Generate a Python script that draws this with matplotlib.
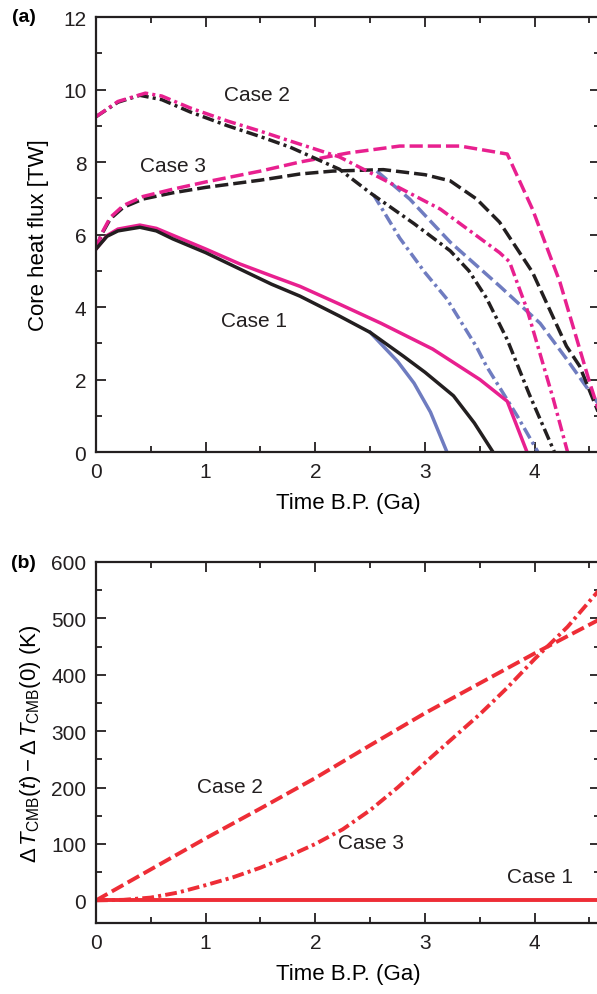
import matplotlib
matplotlib.use("Agg")
import matplotlib.pyplot as plt
from matplotlib.ticker import MultipleLocator

plt.rcParams['font.family'] = ['Liberation Sans', 'DejaVu Sans']
plt.rcParams['mathtext.fontset'] = 'custom'
plt.rcParams['mathtext.rm'] = 'Liberation Sans'
plt.rcParams['mathtext.it'] = 'Liberation Sans:italic'
plt.rcParams['mathtext.bf'] = 'Liberation Sans:bold'
plt.rcParams['lines.scale_dashes'] = False

BLACK = '#231f20'
MAGENTA = '#e8208f'
BLUE = '#6f7cc0'
RED = '#ee2d36'

DASHED = (0, (9.5, 3.6))
DASHDOT = (0, (8.5, 3.0, 2.2, 3.0))

# ---- (a) core heat flux, TW ----
# Case 1 (solid)
t1_black = [0, 0.1, 0.2, 0.4, 0.55, 0.7, 1.0, 1.31, 1.6, 1.86, 2.22, 2.5, 2.8, 3.0, 3.26, 3.45, 3.62]
q1_black = [5.6, 5.95, 6.1, 6.2, 6.1, 5.88, 5.5, 5.05, 4.63, 4.3, 3.75, 3.3, 2.65, 2.2, 1.55, 0.8, 0.0]
t1_magenta = [0, 0.1, 0.2, 0.4, 0.55, 0.7, 1.0, 1.31, 1.6, 1.86, 2.22, 2.6, 3.07, 3.5, 3.75, 3.93]
q1_magenta = [5.6, 5.97, 6.15, 6.26, 6.17, 5.98, 5.6, 5.19, 4.86, 4.57, 4.08, 3.55, 2.84, 2.0, 1.4, 0.0]
t1_blue = [2.5, 2.75, 2.9, 3.05, 3.2]
q1_blue = [3.3, 2.5, 1.9, 1.1, 0.0]

# Case 2 (dash-dot)
t2_black = [0, 0.2, 0.4, 0.6, 0.86, 1.2, 1.5, 1.77, 2.22, 2.5, 2.9, 3.23, 3.4, 3.56, 3.75, 3.95, 4.18]
q2_black = [9.25, 9.65, 9.84, 9.72, 9.38, 9.0, 8.7, 8.41, 7.8, 7.15, 6.3, 5.55, 5.0, 4.25, 3.1, 1.6, 0.0]
t2_magenta = [0, 0.2, 0.45, 0.6, 0.86, 1.2, 1.5, 1.77, 2.22, 2.6, 3.14, 3.68, 3.77, 3.93, 4.17, 4.3]
q2_magenta = [9.25, 9.67, 9.9, 9.82, 9.49, 9.13, 8.85, 8.58, 8.14, 7.55, 6.7, 5.5, 5.25, 3.94, 1.46, 0.0]
t2_blue = [2.53, 2.77, 3.0, 3.2, 3.47, 3.56, 3.84, 4.03]
q2_blue = [7.1, 5.9, 4.95, 4.22, 2.9, 2.37, 1.0, 0.0]

# Case 3 (dashed)
t3_black = [0, 0.05, 0.13, 0.25, 0.43, 0.7, 1.0, 1.5, 1.86, 2.16, 2.62, 3.0, 3.23, 3.47, 3.68, 3.98, 4.29, 4.41, 4.6]
q3_black = [5.6, 6.0, 6.43, 6.75, 6.98, 7.15, 7.3, 7.5, 7.67, 7.75, 7.79, 7.65, 7.48, 6.98, 6.34, 4.96, 2.92, 2.37, 0.95]
t3_magenta = [0, 0.05, 0.13, 0.25, 0.43, 0.7, 1.0, 1.5, 1.86, 2.3, 2.77, 3.32, 3.75, 3.98, 4.23, 4.5, 4.6]
q3_magenta = [5.6, 6.02, 6.47, 6.8, 7.05, 7.25, 7.45, 7.75, 8.0, 8.25, 8.44, 8.44, 8.22, 6.7, 4.69, 1.93, 1.0]
t3_blue = [2.56, 2.86, 3.23, 3.68, 4.05, 4.29, 4.6]
q3_blue = [7.75, 6.98, 5.79, 4.58, 3.55, 2.57, 1.25]

# ---- (b) CMB temperature change, K ----
t_case1 = [0, 4.6]
dT_case1 = [0, 0]
t_case2 = [0, 0.5, 1.0, 1.5, 2.0, 2.5, 3.0, 3.5, 4.0, 4.6]
dT_case2 = [0, 55, 110, 163, 217, 275, 332, 385, 438, 499]
t_case3 = [0, 0.25, 0.5, 0.75, 1.0, 1.25, 1.5, 1.75, 2.0, 2.25, 2.5, 2.75, 3.0, 3.25, 3.5, 3.75, 4.0, 4.3, 4.6]
dT_case3 = [0, 1, 5, 14, 27, 41, 58, 78, 100, 126, 160, 200, 244, 287, 330, 377, 428, 485, 553]

fig = plt.figure(figsize=(5.97, 9.95), dpi=100)
ax1 = fig.add_axes([0.1608, 0.5447, 0.845, 0.4372])
ax2 = fig.add_axes([0.1608, 0.0714, 0.845, 0.3628])

lw = 2.5
ax1.plot(t3_blue, q3_blue, color=BLUE, lw=lw, ls=DASHED)
ax1.plot(t2_blue, q2_blue, color=BLUE, lw=lw, ls=DASHDOT)
ax1.plot(t1_blue, q1_blue, color=BLUE, lw=lw)
ax1.plot(t3_black, q3_black, color=BLACK, lw=lw, ls=DASHED)
ax1.plot(t3_magenta, q3_magenta, color=MAGENTA, lw=lw, ls=DASHED)
ax1.plot(t2_black, q2_black, color=BLACK, lw=lw, ls=DASHDOT)
ax1.plot(t2_magenta, q2_magenta, color=MAGENTA, lw=lw, ls=DASHDOT)
ax1.plot(t1_magenta, q1_magenta, color=MAGENTA, lw=lw)
ax1.plot(t1_black, q1_black, color=BLACK, lw=lw)

ax1.set_xlim(0, 4.6)
ax1.set_ylim(0, 12)
ax1.yaxis.set_major_locator(MultipleLocator(2))
ax1.yaxis.set_minor_locator(MultipleLocator(1))
ax1.set_ylabel('Core heat flux [TW]', fontsize=16, labelpad=10)
ax1.text(1.47, 9.85, 'Case 2', fontsize=15, ha='center', va='center', color=BLACK)
ax1.text(0.7, 7.9, 'Case 3', fontsize=15, ha='center', va='center', color=BLACK)
ax1.text(1.44, 3.64, 'Case 1', fontsize=15, ha='center', va='center', color=BLACK)

ax2.plot(t_case1, dT_case1, color=RED, lw=lw + 0.3)
ax2.plot(t_case2, dT_case2, color=RED, lw=lw + 0.3, ls=DASHED)
ax2.plot(t_case3, dT_case3, color=RED, lw=lw + 0.3, ls=DASHDOT)
ax2.set_xlim(0, 4.6)
ax2.set_ylim(-40, 600)
ax2.yaxis.set_major_locator(MultipleLocator(100))
ax2.yaxis.set_minor_locator(MultipleLocator(50))
ax2.set_ylabel(r'$\Delta\,T_{\mathrm{CMB}}(\mathbf{\mathit{t}})-\Delta\,T_{\mathrm{CMB}}(0)$ (K)',
               fontsize=16, labelpad=6)
ax2.text(1.22, 202, 'Case 2', fontsize=15, ha='center', va='center', color=BLACK)
ax2.text(2.51, 103, 'Case 3', fontsize=15, ha='center', va='center', color=BLACK)
ax2.text(4.05, 43, 'Case 1', fontsize=15, ha='center', va='center', color=BLACK)

for ax in (ax1, ax2):
    ax.xaxis.set_major_locator(MultipleLocator(1))
    ax.xaxis.set_minor_locator(MultipleLocator(0.5))
    ax.tick_params(which='both', direction='in', top=True, right=True,
                   labelsize=15, colors=BLACK, width=1.3)
    ax.tick_params(which='major', length=7, pad=7)
    ax.tick_params(which='minor', length=4.5)
    for sp in ax.spines.values():
        sp.set_linewidth(1.6)
        sp.set_color(BLACK)
    ax.set_xlabel('Time B.P. (Ga)', fontsize=16, labelpad=8)

fig.text(0.04, 0.982, '(a)', fontsize=14, fontweight='bold', ha='center', va='center')
fig.text(0.04, 0.434, '(b)', fontsize=14, fontweight='bold', ha='center', va='center')

fig.savefig('out.png', dpi=100)
